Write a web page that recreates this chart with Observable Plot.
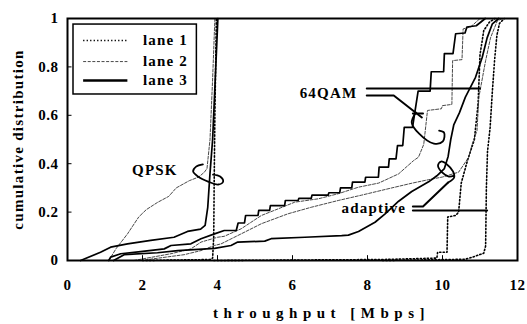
<!DOCTYPE html>
<html><head><meta charset="utf-8">
<script src="https://cdn.jsdelivr.net/npm/d3@7"></script>
<script src="https://cdn.jsdelivr.net/npm/@observablehq/plot@0.6"></script>
<style>body{margin:0;background:#fff}</style>
</head><body><div id="chart"></div>
<script>
// ---- data: [throughput Mbps, cumulative distribution]
const xTicks = [0, 2, 4, 6, 8, 10, 12];
const yTicks = [0, 0.2, 0.4, 0.6, 0.8, 1];
const lanes = ["lane 1", "lane 2", "lane 3"];
const schemes = ["QPSK", "64QAM", "adaptive"];

const qpskLane1 = [[2.0,0],[3.8,0.004],[3.87,0.01],[3.9,0.1],[3.91,0.3],[3.93,0.6],[3.95,0.8],[3.97,1.0]];
const qpskLane2 = [[1.1,0],[1.3,0.05],[1.6,0.11],[1.9,0.18],[2.1,0.21],[2.4,0.24],[2.7,0.265],[2.9,0.3],[3.25,0.33],[3.5,0.345],[3.65,0.365],[3.72,0.38],[3.8,0.5],[3.87,0.75],[3.93,1.0]];
const qpskLane3 = [[0.35,0],[0.88,0.034],[1.15,0.055],[1.6,0.069],[2.22,0.083],[2.84,0.096],[3.2,0.12],[3.55,0.13],[3.67,0.145],[3.74,0.22],[3.8,0.36],[3.87,0.5],[3.94,0.75],[4.01,1.0]];

const qamLane1 = [[3.9,0],[8.4,0.004],[9.85,0.01],[9.87,0.034],[10.12,0.034],[10.14,0.18],[10.35,0.186],[10.43,0.2],[10.5,0.32],[10.66,0.41],[10.85,0.5],[10.95,0.65],[11.0,0.85],[11.1,0.95],[11.25,0.985],[11.4,1.0]];
const qamLane2 = [[1.77,0],[2.76,0.028],[3.29,0.048],[3.56,0.076],[4.0,0.096],[4.18,0.1],[4.63,0.131],[5.17,0.186],[5.61,0.213],[6.06,0.241],[6.69,0.255],[7.22,0.276],[7.76,0.303],[8.3,0.32],[8.83,0.358],[9.23,0.413],[9.36,0.427],[9.5,0.48],[9.6,0.62],[9.97,0.627],[10.0,0.64],[10.25,0.645],[10.27,0.826],[10.52,0.83],[10.55,0.957],[10.75,0.965],[11.0,1.0]];
const qamLane3 = [[1.1,0],[1.15,0.014],[1.42,0.028],[1.95,0.037],[2.58,0.048],[2.76,0.062],[3.29,0.069],[3.56,0.09],[3.92,0.11],[4.18,0.124],[4.5,0.124],[4.55,0.155],[4.72,0.155],[4.75,0.186],[5.08,0.186],[5.1,0.207],[5.39,0.207],[5.41,0.227],[5.79,0.227],[5.81,0.248],[6.15,0.248],[6.17,0.257],[6.5,0.257],[6.52,0.27],[6.95,0.27],[6.97,0.28],[7.26,0.28],[7.28,0.3],[7.58,0.3],[7.6,0.324],[7.93,0.324],[7.95,0.344],[8.29,0.344],[8.31,0.386],[8.56,0.386],[8.58,0.42],[8.76,0.42],[8.8,0.475],[8.94,0.475],[8.98,0.55],[9.2,0.55],[9.35,0.7],[9.67,0.7],[9.7,0.78],[10.03,0.78],[10.05,0.855],[10.28,0.855],[10.35,0.937],[10.6,0.94],[10.65,0.965],[10.9,0.97],[11.14,1.0]];

const adaptiveLane1 = [[8.4,0],[10.6,0.005],[10.8,0.014],[11.1,0.03],[11.15,0.06],[11.17,0.3],[11.2,0.45],[11.27,0.55],[11.33,0.7],[11.39,0.83],[11.45,0.93],[11.52,0.98],[11.65,1.0]];
const adaptiveLane2 = [[1.95,0],[3.11,0.024],[3.56,0.041],[3.92,0.062],[4.1,0.069],[4.63,0.11],[5.17,0.152],[5.88,0.193],[6.5,0.22],[7.22,0.248],[7.84,0.27],[8.65,0.3],[9.2,0.32],[9.63,0.334],[10.0,0.345],[10.43,0.365],[10.7,0.427],[10.79,0.48],[10.92,0.537],[10.97,0.675],[11.15,0.826],[11.28,0.92],[11.46,0.99],[11.6,1.0]];
const adaptiveLane3 = [[1.23,0],[1.51,0.024],[2.4,0.032],[2.94,0.041],[3.92,0.05],[4.36,0.062],[4.54,0.076],[5.26,0.08],[5.43,0.09],[6.33,0.096],[7.31,0.103],[7.49,0.105],[7.76,0.12],[8.2,0.158],[8.47,0.193],[8.83,0.245],[9.18,0.285],[9.63,0.325],[9.85,0.35],[10.05,0.38],[10.15,0.43],[10.22,0.5],[10.3,0.56],[10.45,0.61],[10.61,0.675],[10.88,0.757],[11.06,0.84],[11.19,0.92],[11.33,0.978],[11.5,1.0]];

// annotation callouts (data units)
const labelText = ["QPSK", "64QAM", "adaptive"];
const labelX = [2.33, 6.96, 8.17];
const labelY = [0.372, 0.69, 0.215];
const qpskCurl = [[3.61,0.397],[3.43,0.388],[3.35,0.368],[3.48,0.347],[3.75,0.326],[4.02,0.314],[4.15,0.326],[4.07,0.347],[3.88,0.355]];
const qamTop = [[7.98,0.711],[11.0,0.711]];
const qamBottom = [[7.98,0.682],[8.7,0.682],[9.45,0.591]];
const qamBar = [[9.21,0.607],[9.48,0.607]];
const qamCurl = [[9.29,0.612],[9.18,0.57],[9.37,0.525],[9.77,0.483],[10.01,0.492],[10.04,0.529],[9.91,0.537]];
const adaptiveLow = [[9.21,0.207],[11.19,0.207]];
const adaptiveHigh = [[9.21,0.223],[9.48,0.223],[10.15,0.322]];
const adaptiveCurl = [[10.15,0.322],[10.31,0.343],[10.28,0.368],[10.12,0.397],[9.96,0.409],[9.88,0.393],[9.99,0.364],[10.17,0.347],[10.31,0.351]];

// legend (data units)
const legendBox = {x1: 0.16, x2: 3.45, y1: 0.686, y2: 0.975};
const legendRowY = [0.909, 0.822, 0.744];

const series = [
  ["QPSK","lane 1",qpskLane1],["QPSK","lane 2",qpskLane2],["QPSK","lane 3",qpskLane3],
  ["64QAM","lane 1",qamLane1],["64QAM","lane 2",qamLane2],["64QAM","lane 3",qamLane3],
  ["adaptive","lane 1",adaptiveLane1],["adaptive","lane 2",adaptiveLane2],["adaptive","lane 3",adaptiveLane3]
];
const rows = series.flatMap(([scheme, lane, pts]) => pts.map(([x, y]) => ({scheme, lane, x, y})));

const laneStyle = {
  "lane 1": {stroke: "#000", strokeWidth: 1.6, strokeDasharray: "1.3,2.2"},
  "lane 2": {stroke: "#333", strokeWidth: 0.9, strokeDasharray: "3,1.6"},
  "lane 3": {stroke: "#000", strokeWidth: 1.7}
};
const legendRows = lanes.map((lane, i) => ({lane, y: legendRowY[i], x1: 0.43, x2: 1.61, tx: 2.01}));

const toRows = pts => pts.map(([x, y]) => ({x, y}));
const calloutStyle = {stroke: "#000", strokeWidth: 2};
const font = {fontFamily: "'Liberation Serif', serif", fontWeight: "bold"};

const plot = Plot.plot({
  width: 527, height: 324,
  marginLeft: 67, marginRight: 10, marginTop: 18, marginBottom: 64,
  style: {fontFamily: "'Liberation Serif', serif", fontSize: "15px", fontWeight: "bold", color: "#000", background: "#fff"},
  x: {domain: [0, 12]},
  y: {domain: [0, 1]},
  marks: [
    ...lanes.map(lane => Plot.line(rows.filter(d => d.lane === lane), {x: "x", y: "y", z: "scheme", ...laneStyle[lane]})),
    Plot.ruleX(xTicks, {x: d => d, y1: 0, y2: 0.02, stroke: "#000", strokeWidth: 1}),
    Plot.ruleY(yTicks, {y: d => d, x1: 0, x2: 0.12, stroke: "#000", strokeWidth: 1}),
    Plot.axisX({ticks: xTicks, tickSize: 0, tickPadding: 19, label: null, tickFormat: d => String(d)}),
    Plot.axisY({ticks: yTicks, tickSize: 0, tickPadding: 9, label: null, tickFormat: d => String(d)}),
    Plot.frame({stroke: "#000", strokeWidth: 2}),
    // legend
    Plot.rect([legendBox], {x1: "x1", x2: "x2", y1: "y1", y2: "y2", fill: "#fff", stroke: "#000", strokeWidth: 1.5}),
    ...legendRows.map(r => Plot.ruleY([r], {y: "y", x1: "x1", x2: "x2", ...laneStyle[r.lane], strokeWidth: r.lane === "lane 3" ? 2.4 : laneStyle[r.lane].strokeWidth})),
    Plot.text(legendRows, {x: "tx", y: "y", text: "lane", textAnchor: "start", fontSize: 15, ...font}),
    // callouts
    Plot.line(toRows(qpskCurl), {x: "x", y: "y", curve: "catmull-rom", stroke: "#000", strokeWidth: 1.8}),
    Plot.line(toRows(qamTop), {x: "x", y: "y", ...calloutStyle}),
    Plot.line(toRows(qamBottom), {x: "x", y: "y", ...calloutStyle}),
    Plot.line(toRows(qamBar), {x: "x", y: "y", ...calloutStyle}),
    Plot.line(toRows(qamCurl), {x: "x", y: "y", curve: "catmull-rom", stroke: "#000", strokeWidth: 1.8}),
    Plot.line(toRows(adaptiveLow), {x: "x", y: "y", ...calloutStyle}),
    Plot.line(toRows(adaptiveHigh), {x: "x", y: "y", ...calloutStyle}),
    Plot.line(toRows(adaptiveCurl), {x: "x", y: "y", curve: "catmull-rom", stroke: "#000", strokeWidth: 1.8}),
    Plot.text(labelText, {x: (d, i) => labelX[i], y: (d, i) => labelY[i], text: d => d, fontSize: 15, ...font}),
    // axis titles
    Plot.text(["throughput [Mbps]"], {frameAnchor: "bottom", dy: 53, dx: 29, textAnchor: "middle", lineAnchor: "middle", text: d => d, fontSize: 15, ...font}),
    Plot.text(["cumulative distribution"], {frameAnchor: "left", dx: -49, rotate: -90, textAnchor: "middle", lineAnchor: "middle", text: d => d, fontSize: 15, ...font})
  ]
});
// letter spacing for texts
plot.querySelectorAll("text").forEach(t => {
  const s = t.textContent;
  if (s === "throughput [Mbps]") t.style.letterSpacing = "5.5px";
  else if (s === "cumulative distribution") t.style.letterSpacing = "1.3px";
  else if (labelText.includes(s) || lanes.includes(s)) t.style.letterSpacing = "1.2px";
  else t.style.letterSpacing = "0.5px";
});
document.getElementById("chart").appendChild(plot);
</script></body></html>
